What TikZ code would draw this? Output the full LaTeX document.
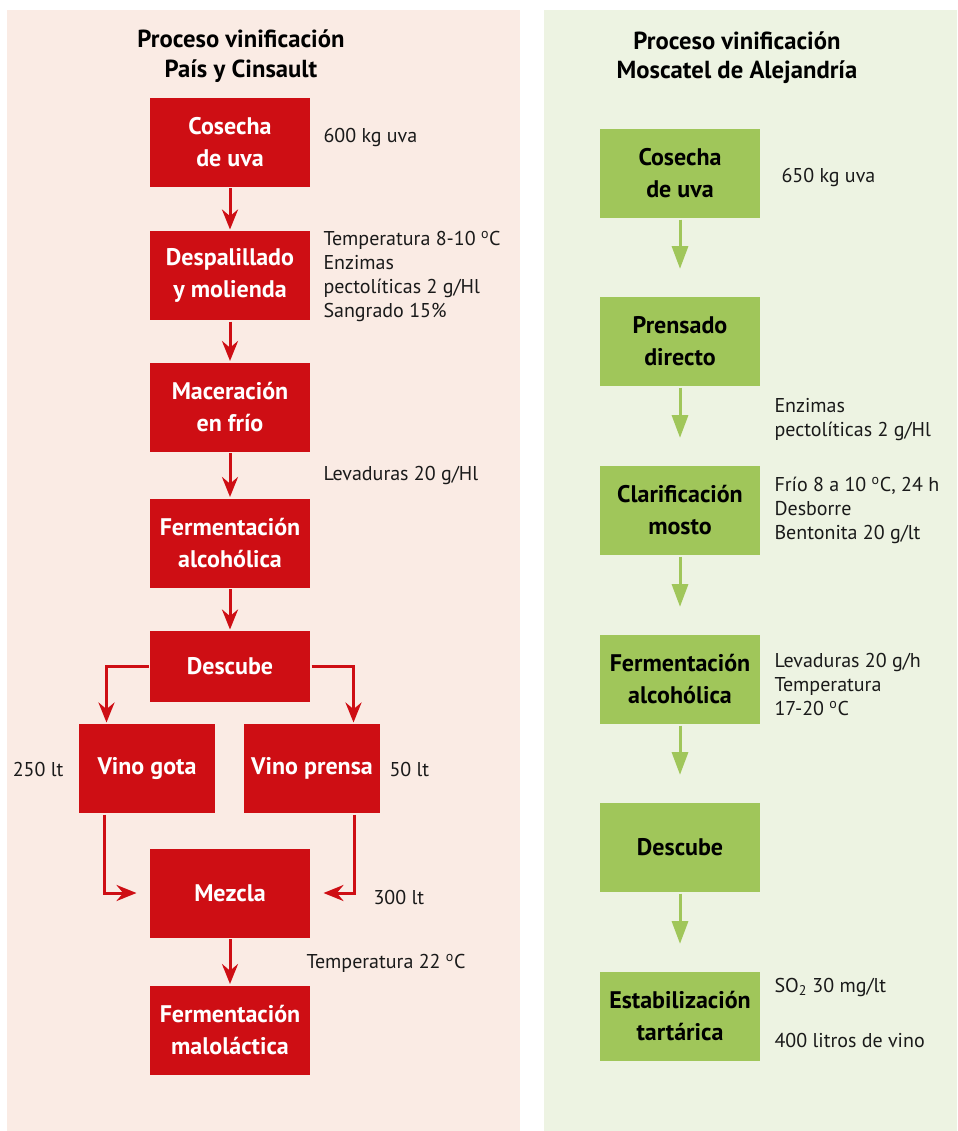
\documentclass[tikz,border=0pt]{standalone}
\usepackage{fontspec}
\setmainfont{PT Sans}
\usetikzlibrary{arrows.meta}
\definecolor{cred}{HTML}{CE0E14}
\definecolor{cgreen}{HTML}{A0C65A}
\definecolor{cpink}{HTML}{FAEBE4}
\definecolor{cmint}{HTML}{EDF3E2}
\definecolor{cink}{HTML}{1A1A1A}
\newcommand{\grado}{\textsuperscript{o}C}
\tikzset{
  every picture/.style={line width=2.25pt},
  rbox/.style={fill=cred, text=white, font=\bfseries\fontsize{18}{24}\selectfont, align=center, minimum width=120pt, minimum height=66.75pt, inner sep=0pt},
  gbox/.style={rbox, fill=cgreen, text=black},
  rarrow/.style={-{Stealth[length=15pt, width=12pt, inset=5pt]}, draw=cred},
  garrow/.style={-{Triangle[length=17pt, width=12pt]}, draw=cgreen, shorten >=20pt},
  info/.style={font=\fontsize{15}{18}\selectfont, text=cink, align=left, anchor=west, inner sep=0pt},
  title/.style={font=\bfseries\fontsize{18.5}{22}\selectfont, align=center, text=black},
}
\begin{document}
\begin{tikzpicture}[x=0.75pt, y=-0.75pt]
  \useasboundingbox (0,0) rectangle (957,1131);
  \fill[cpink] (7,10) rectangle (520,1131);
  \fill[cmint] (544,10) rectangle (957,1131);
  % left column
  \node[title] (ltitle) at (241,56) {Proceso vinificación\\País y Cinsault};
  \foreach \n/\y/\t in {l1/142/{Cosecha\\de uva}, l2/275.5/{Despalillado\\y molienda},
      l3/407/{Maceración\\en frío}, l4/543/{Fermentación\\alcohólica},
      mezcla/893/{Mezcla}, malo/1030/{Fermentación\\maloláctica}}
    \node[rbox] (\n) at (230,\y) {\t};
  \node[rbox, minimum height=53.25pt] (desc) at (230,666.5) {Descube};
  \node[rbox, minimum width=102pt] (gota) at (147,768.5) {Vino gota};
  \node[rbox, minimum width=102pt] (prensa) at (312,768.5) {Vino prensa};
  \draw[rarrow] (l1) -- (l2);
  \draw[rarrow] (l2) -- (l3);
  \draw[rarrow] (l3) -- (l4);
  \draw[rarrow] (l4) -- (desc);
  \draw[rarrow] (desc.west) -| ([xshift=21.75pt]gota.north west);
  \draw[rarrow] (desc.east) -| ([xshift=-21pt]prensa.north east);
  \draw[rarrow, shorten >=9pt] ([xshift=20.25pt]gota.south west) |- (mezcla.west);
  \draw[rarrow, shorten >=9pt] ([xshift=-20.25pt]prensa.south east) |- (mezcla.east);
  \draw[rarrow] (mezcla) -- (malo);
  \node[info] (n1) at (322,137) {600 kg uva};
  \node[info] (n2) at (322,276.5) {Temperatura 8-10 \grado\\Enzimas\\pectolíticas 2 g/Hl\\Sangrado 15\%};
  \node[info] (n3) at (322,475) {Levaduras 20 g/Hl};
  \node[info, anchor=east] (n4) at (65,769) {250 lt};
  \node[info] (n5) at (388,769) {50 lt};
  \node[info] (n6) at (372,897) {300 lt};
  \node[info] (n7) at (305,963) {Temperatura 22 \grado};
  % right column
  \node[title] (rtitle) at (737,58) {Proceso vinificación\\Moscatel de Alejandría};
  \foreach \n/\y/\t in {r1/173.5/{Cosecha\\de uva}, r2/341.5/{Prensado\\directo},
      r3/510.5/{Clarificación\\mosto}, r4/679.5/{Fermentación\\alcohólica},
      r5/847.5/{Descube}, r6/1016.5/{Estabilización\\tartárica}}
    \node[gbox] (\n) at (680,\y) {\t};
  \foreach \a/\b in {r1/r2, r2/r3, r3/r4, r4/r5, r5/r6}
    \draw[garrow] (\a) -- (\b);
  \node[info] (m1) at (780,177) {650 kg uva};
  \node[info] (m2) at (773,420) {Enzimas\\pectolíticas 2 g/Hl};
  \node[info] (m3) at (773,510) {Frío 8 a 10 \grado, 24 h\\Desborre\\Bentonita 20 g/lt};
  \node[info] (m4) at (773,684) {Levaduras 20 g/h\\Temperatura\\17-20 \grado};
  \node[info] (m5) at (773,987) {SO\textsubscript{2} 30 mg/lt};
  \node[info] (m6) at (773,1040) {400 litros de vino};
\end{tikzpicture}
\end{document}
